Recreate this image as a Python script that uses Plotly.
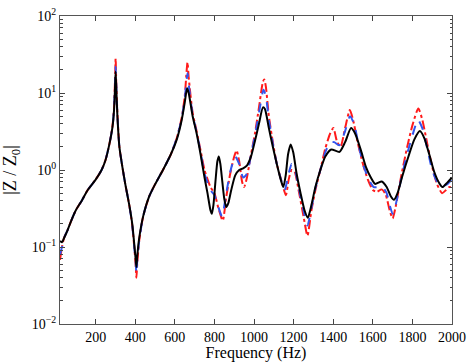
import plotly.graph_objects as go

# black solid curve
f_black = [20, 30, 40, 60, 80, 100, 130, 160, 200, 230, 250, 270, 285, 293, 298, 301, 304, 310,
           320, 335, 350, 370, 385, 395, 402, 406, 410, 420, 440, 470, 500, 540, 580, 610, 635,
           650, 662, 670, 690, 710, 730, 750, 765, 780, 787, 795, 805, 815, 822, 830, 840, 850,
           860, 870, 885, 905, 925, 945, 965, 985, 1005, 1025, 1045, 1055, 1075, 1095, 1115,
           1135, 1148, 1160, 1172, 1185, 1198, 1215, 1235, 1255, 1272, 1290, 1310, 1335, 1360,
           1390, 1432, 1460, 1490, 1510, 1540, 1565, 1590, 1612, 1645, 1670, 1690, 1707, 1725,
           1750, 1780, 1810, 1838, 1860, 1885, 1910, 1935, 1952, 1975, 2000]
z_black = [0.12, 0.115, 0.13, 0.17, 0.23, 0.3, 0.4, 0.55, 0.75, 1.0, 1.35, 2.2, 3.6, 6, 12, 19, 12, 5,
           2.0, 1.1, 0.65, 0.35, 0.2, 0.11, 0.07, 0.055, 0.075, 0.13, 0.25, 0.45, 0.65, 1.0, 1.6, 2.5, 4.5,
           7.5, 11.5, 10, 5, 3, 1.6, 0.8, 0.5, 0.3, 0.27, 0.35, 0.7, 1.3, 1.5, 1.2, 0.7, 0.42,
           0.33, 0.37, 0.55, 0.85, 1.0, 1.05, 1.15, 1.5, 2.4, 4.0, 6.5, 6.2, 3.5, 2.0, 1.2,
           0.75, 0.6, 0.85, 1.6, 2.15, 1.7, 0.9, 0.5, 0.3, 0.24, 0.35, 0.6, 1.0, 1.5,
           1.85, 1.72, 2.3, 3.5, 3.0, 1.8, 1.1, 0.8, 0.66, 0.71, 0.6, 0.46, 0.41, 0.5,
           0.85, 1.5, 2.5, 3.2, 2.6, 1.6, 0.95, 0.68, 0.6, 0.68, 0.8]

# red dash-dot curve
f_red = [20, 30, 40, 60, 80, 100, 130, 160, 200, 230, 250, 270, 285, 293, 298, 301, 304, 310,
         320, 335, 350, 370, 385, 395, 402, 406, 410, 420, 440, 470, 500, 540, 580, 610, 635,
         650, 660, 664, 670, 690, 710, 730, 750, 780, 800, 820, 842, 860, 880, 900, 912, 925,
         940, 950, 962, 985, 1005, 1025, 1045, 1052, 1060, 1075, 1095, 1115, 1140, 1161, 1175,
         1190, 1205, 1225, 1250, 1270, 1290, 1310, 1335, 1360, 1385, 1401, 1420, 1437, 1460,
         1484, 1500, 1525, 1550, 1575, 1600, 1620, 1645, 1665, 1685, 1700, 1715, 1740, 1770,
         1800, 1830, 1850, 1875, 1900, 1925, 1950, 1970, 1985, 2000]
z_red = [0.068, 0.1, 0.13, 0.17, 0.23, 0.3, 0.4, 0.55, 0.75, 1.0, 1.35, 2.2, 3.7, 6.5, 15, 28, 14, 5.5,
         2.0, 1.1, 0.65, 0.35, 0.19, 0.1, 0.06, 0.04, 0.06, 0.12, 0.25, 0.45, 0.65, 1.0, 1.6, 2.6, 4.8,
         9, 20, 25, 16, 5.5, 3.2, 1.8, 1.0, 0.6, 0.5, 0.32, 0.22, 0.45, 0.9, 1.5, 1.8, 1.3,
         0.7, 0.6, 0.75, 1.6, 3.0, 6.5, 14, 15, 12, 5, 2.3, 1.2, 0.7, 0.47, 0.75,
         1.0, 0.95, 0.55, 0.25, 0.14, 0.3, 0.55, 1.0, 1.9, 3.0, 3.5, 2.3, 2.0, 3.5,
         6.0, 4.5, 2.2, 1.2, 0.75, 0.55, 0.52, 0.56, 0.48, 0.3, 0.235, 0.33, 0.75, 1.8,
         3.8, 6.3, 4.5, 2.2, 1.1, 0.65, 0.5, 0.55, 0.6, 0.6]

# blue dashed curve
f_blue = [20, 30, 40, 60, 80, 100, 130, 160, 200, 230, 250, 270, 285, 293, 298, 301, 304, 310,
          320, 335, 350, 370, 385, 395, 402, 406, 410, 420, 440, 470, 500, 540, 580, 610, 635,
          650, 660, 664, 670, 690, 710, 730, 750, 780, 800, 820, 838, 860, 880, 905, 925, 945,
          965, 985, 1005, 1025, 1048, 1060, 1075, 1095, 1115, 1140, 1155, 1175, 1190, 1205,
          1225, 1250, 1270, 1290, 1310, 1335, 1360, 1385, 1405, 1430, 1460, 1485, 1505, 1530,
          1555, 1580, 1605, 1630, 1650, 1670, 1685, 1700, 1715, 1740, 1770, 1800, 1828, 1850,
          1875, 1900, 1925, 1950, 1975, 2000]
z_blue = [0.08, 0.1, 0.13, 0.17, 0.23, 0.3, 0.4, 0.55, 0.75, 1.0, 1.35, 2.2, 3.6, 6.2, 13, 22, 13, 5.2,
          2.0, 1.1, 0.65, 0.35, 0.19, 0.1, 0.065, 0.045, 0.065, 0.12, 0.25, 0.45, 0.65, 1.0, 1.6, 2.6, 4.7,
          8.5, 15, 18, 13, 5.2, 3.1, 1.7, 0.9, 0.55, 0.47, 0.33, 0.25, 0.5, 0.95, 1.5, 1.2, 0.8,
          0.9, 1.6, 2.8, 5.5, 11, 9, 4.5, 2.2, 1.2, 0.7, 0.55, 0.9, 1.2, 1.05,
          0.6, 0.3, 0.19, 0.32, 0.58, 1.0, 1.7, 2.3, 2.3, 2.1, 3.2, 5.0, 4.0, 2.0,
          1.1, 0.75, 0.6, 0.6, 0.6, 0.5, 0.35, 0.27, 0.35, 0.7, 1.5, 2.8, 4.5, 3.5,
          1.9, 1.0, 0.7, 0.62, 0.65, 0.75]

x_ticks = [200, 400, 600, 800, 1000, 1200, 1400, 1600, 1800, 2000]
y_ticks = [0.01, 0.1, 1, 10, 100]
y_labels = ["10<sup>−2</sup>", "10<sup>−1</sup>", "10<sup>0</sup>", "10<sup>1</sup>", "10<sup>2</sup>"]
minor_y = [m * 10.0 ** e for e in range(-2, 2) for m in range(2, 10)]

fig = go.Figure()
fig.add_trace(go.Scatter(x=f_red, y=z_red, mode="lines", line=dict(color="#ff1a1a", width=2, dash="dashdot", shape="spline", smoothing=0.6)))
fig.add_trace(go.Scatter(x=f_blue, y=z_blue, mode="lines", line=dict(color="#3355ee", width=2, dash="dash", shape="spline", smoothing=0.6)))
fig.add_trace(go.Scatter(x=f_black, y=z_black, mode="lines", line=dict(color="black", width=2, shape="spline", smoothing=0.6)))

serif = "Liberation Serif, Times New Roman, serif"
tick_font = dict(family=serif, size=14, color="black")
fig.update_layout(
    width=471, height=362,
    margin=dict(l=60, r=19, t=16, b=38, autoexpand=False),
    paper_bgcolor="white", plot_bgcolor="white",
    showlegend=False,
    font=tick_font,
)
fig.update_xaxes(
    range=[20, 2000], tickvals=x_ticks, ticks="inside", ticklen=5, mirror="ticks",
    showline=True, linecolor="#555", linewidth=1, showgrid=False, zeroline=False, automargin=False,
    tickfont=tick_font, ticklabeloverflow="allow",
    title=dict(text="Frequency (Hz)", font=dict(family=serif, size=16, color="black"), standoff=0),
)
fig.update_yaxes(
    type="log", range=[-2, 2], tickvals=y_ticks, ticktext=y_labels, ticks="inside", ticklen=5,
    mirror="ticks", showline=True, linecolor="#555", linewidth=1, showgrid=False, zeroline=False,
    automargin=False, ticklabeloverflow="allow",
    minor=dict(tickvals=minor_y, ticks="inside", ticklen=2.5, showgrid=False),
    tickfont=tick_font,
    title=dict(text="|Z / Z<sub>0</sub>|", font=dict(family=serif, size=18, color="black"), standoff=10),
)

# drop the browser's default body margin so the 471x362 figure fills the window
fig.write_html("out.html", config={"displayModeBar": False},
               post_script="document.body.style.margin='0';")
